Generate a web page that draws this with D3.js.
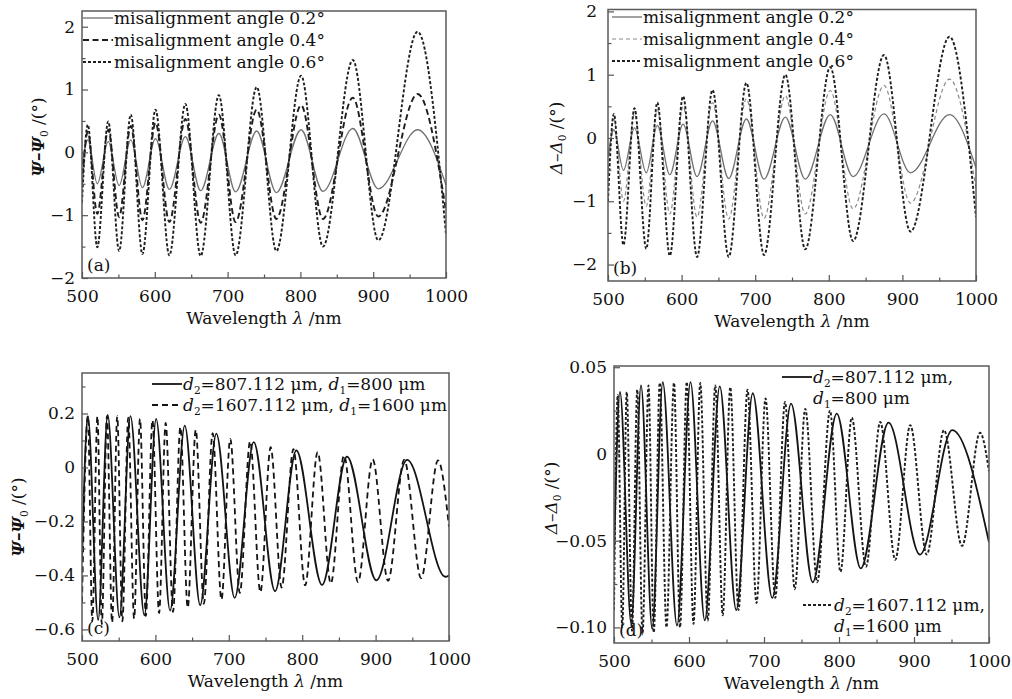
<!DOCTYPE html>
<html>
<head>
<meta charset="utf-8">
<script src="https://cdn.jsdelivr.net/npm/d3@7"></script>
<style>
body { margin: 0; background: #fff; }
svg text { font-family: "DejaVu Serif", serif; fill: #111; }
</style>
</head>
<body>
<div id="chartContainer"></div>
<script>
const SVG_WIDTH = 1012;
const SVG_HEIGHT = 699;
const FONT_SIZE = 17;

// Panel (a): Psi - Psi0, extrema
const A_WL = [500, 508, 521, 536, 551, 567, 583, 601, 620, 642, 663, 688, 711, 740, 767, 801, 831, 872, 907, 961, 1000];
const A_ANGLE_02 = [-0.2, 0.2, -0.5, 0.17, -0.53, 0.2, -0.56, 0.22, -0.59, 0.25, -0.61, 0.3, -0.63, 0.34, -0.64, 0.36, -0.62, 0.38, -0.58, 0.36, -0.52];
const A_ANGLE_04 = [-0.5, 0.33, -0.98, 0.36, -1.03, 0.42, -1.08, 0.47, -1.11, 0.53, -1.12, 0.6, -1.11, 0.68, -1.06, 0.75, -1.06, 0.87, -1.02, 0.93, -0.93];
const A_ANGLE_06 = [-0.8, 0.44, -1.51, 0.49, -1.57, 0.6, -1.62, 0.68, -1.64, 0.77, -1.65, 0.91, -1.64, 1.04, -1.57, 1.22, -1.5, 1.47, -1.4, 1.92, -1.3];

// Panel (b): Delta - Delta0
const B_WL = [500, 508, 521, 536, 552, 567, 584, 602, 621, 642, 664, 688, 712, 741, 768, 802, 833, 875, 911, 964, 1000];
const B_ANGLE_02 = [-0.3, 0.13, -0.51, 0.16, -0.55, 0.2, -0.58, 0.22, -0.61, 0.27, -0.64, 0.3, -0.65, 0.33, -0.65, 0.37, -0.61, 0.38, -0.55, 0.37, -0.47];
const B_ANGLE_04 = [-0.6, 0.3, -1.0, 0.38, -1.08, 0.45, -1.2, 0.5, -1.25, 0.56, -1.28, 0.62, -1.27, 0.67, -1.2, 0.75, -1.12, 0.83, -1.03, 0.93, -0.8];
const B_ANGLE_06 = [-1.0, 0.38, -1.69, 0.47, -1.75, 0.56, -1.86, 0.66, -1.88, 0.76, -1.88, 0.87, -1.85, 1.0, -1.76, 1.12, -1.63, 1.31, -1.48, 1.6, -1.25];

// Panel (c): Psi - Psi0 for two thicknesses
const C_THIN_WL = [500, 508, 522, 535, 551, 566, 585, 601, 620, 640, 661, 683, 708, 734, 763, 792, 827, 861, 901, 943, 995, 1000];
const C_THIN = [-0.35, 0.19, -0.565, 0.195, -0.555, 0.19, -0.548, 0.18, -0.53, 0.155, -0.51, 0.125, -0.483, 0.094, -0.458, 0.063, -0.435, 0.04, -0.418, 0.028, -0.405, -0.4];
const C_THICK_WL = [500, 508, 514, 521, 527, 534, 541, 548, 555, 563, 571, 579, 587, 596, 605, 614, 624, 634, 644, 655, 666, 678, 690, 702, 715, 729, 743, 757, 772, 788, 804, 821, 839, 857, 876, 896, 917, 939, 962, 985, 1000];
const C_THICK = [-0.5, 0.19, -0.57, 0.19, -0.58, 0.19, -0.575, 0.19, -0.57, 0.185, -0.56, 0.18, -0.55, 0.175, -0.54, 0.165, -0.535, 0.15, -0.52, 0.14, -0.505, 0.127, -0.49, 0.106, -0.465, 0.097, -0.462, 0.075, -0.445, 0.068, -0.437, 0.057, -0.43, 0.045, -0.425, 0.03, -0.42, 0.028, -0.41, 0.026, -0.22];

// Panel (d): Delta - Delta0 for two thicknesses
const D_THIN_WL = [500, 508, 523, 536, 551, 565, 584, 602, 621, 641, 663, 685, 711, 736, 765, 797, 829, 866, 908, 951, 1000];
const D_THIN = [-0.06, 0.0357, -0.098, 0.0395, -0.101, 0.0414, -0.099, 0.0414, -0.096, 0.039, -0.09, 0.035, -0.083, 0.029, -0.074, 0.0233, -0.066, 0.018, -0.058, 0.0137, -0.051];
const D_THICK_WL = [500, 505, 511, 517, 524, 531, 538, 546, 553, 561, 570, 580, 588, 597, 606, 615, 625, 635, 645, 655, 666, 678, 690, 702, 715, 728, 741, 755, 771, 788, 802, 817, 836, 855, 875, 895, 917, 940, 964, 988, 1000];
const D_THICK = [-0.09, 0.034, -0.1, 0.0357, -0.102, 0.037, -0.104, 0.0395, -0.103, 0.041, -0.1, 0.041, -0.1, 0.0415, -0.098, 0.041, -0.096, 0.0395, -0.093, 0.0385, -0.09, 0.037, -0.086, 0.032, -0.083, 0.03, -0.078, 0.026, -0.074, 0.025, -0.068, 0.021, -0.065, 0.0185, -0.061, 0.0166, -0.058, 0.0137, -0.053, 0.0122, -0.01];

// Axis ticks and labels
const X_TICKS = [500, 600, 700, 800, 900, 1000];
const X_MINOR = [550, 650, 750, 850, 950];
const A_Y_TICKS = [-2, -1, 0, 1, 2];
const A_Y_TICK_LABELS = ["\u22122", "\u22121", "0", "1", "2"];
const A_Y_MINOR = [-1.5, -0.5, 0.5, 1.5];
const B_Y_TICKS = [-2, -1, 0, 1, 2];
const B_Y_TICK_LABELS = ["\u22122", "\u22121", "0", "1", "2"];
const B_Y_MINOR = [-1.5, -0.5, 0.5, 1.5];
const C_Y_TICKS = [-0.6, -0.4, -0.2, 0, 0.2];
const C_Y_TICK_LABELS = ["\u22120.6", "\u22120.4", "\u22120.2", "0", "0.2"];
const C_Y_MINOR = [-0.5, -0.3, -0.1, 0.1, 0.3];
const D_Y_TICKS = [-0.1, -0.05, 0, 0.05];
const D_Y_TICK_LABELS = ["\u22120.10", "\u22120.05", "0", "0.05"];
const D_Y_MINOR = [-0.075, -0.025, 0.025];

// Texts, as [string, kind] parts
const X_TITLE = [["Wavelength ", "n"], ["\u03bb", "i"], [" /nm", "n"]];
const PSI_TITLE = [["\u03a8\u2013\u03a8", "bi"], ["0", "sub"], [" /(\u00b0)", "n"]];
const DELTA_TITLE = [["\u0394\u2013\u0394", "i"], ["0", "sub"], [" /(\u00b0)", "n"]];
const ANGLE_LABELS = ["misalignment angle 0.2\u00b0", "misalignment angle 0.4\u00b0", "misalignment angle 0.6\u00b0"];
const THIN_LABEL = [["d", "i"], ["2", "sub"], ["=807.112 \u03bcm, ", "n"], ["d", "i"], ["1", "sub"], ["=800 \u03bcm", "n"]];
const THICK_LABEL = [["d", "i"], ["2", "sub"], ["=1607.112 \u03bcm, ", "n"], ["d", "i"], ["1", "sub"], ["=1600 \u03bcm", "n"]];
const THIN_LABEL_1 = [["d", "i"], ["2", "sub"], ["=807.112 \u03bcm,", "n"]];
const THIN_LABEL_2 = [["d", "i"], ["1", "sub"], ["=800 \u03bcm", "n"]];
const THICK_LABEL_1 = [["d", "i"], ["2", "sub"], ["=1607.112 \u03bcm,", "n"]];
const THICK_LABEL_2 = [["d", "i"], ["1", "sub"], ["=1600 \u03bcm", "n"]];

const LINE_STYLES = {
    grey: { stroke: "#707070", width: 1.3, dash: null },
    longDash: { stroke: "#1e1e1e", width: 1.9, dash: "6,3.5" },
    greyDash: { stroke: "#8a8a8a", width: 1.2, dash: "4,3" },
    dot: { stroke: "#1e1e1e", width: 1.9, dash: "3,2" },
    black: { stroke: "#141414", width: 1.8, dash: null },
    blackDash: { stroke: "#141414", width: 1.8, dash: "6,4" }
};

const zipSeries = (wl, vals) => wl.map((w, i) => [w, vals[i]]);

const panels = [
    {
        name: "(a)", box: { left: 82, right: 446, top: 11, bottom: 278 }, yDomain: [-2, 2.25],
        yTicks: A_Y_TICKS, yTickLabels: A_Y_TICK_LABELS, yMinor: A_Y_MINOR, yTitle: PSI_TITLE, yTitlePos: [38, 137],
        series: [
            { points: zipSeries(A_WL, A_ANGLE_02), style: "grey" },
            { points: zipSeries(A_WL, A_ANGLE_04), style: "longDash" },
            { points: zipSeries(A_WL, A_ANGLE_06), style: "dot" }
        ],
        legend: [
            { x1: 83, x2: 113, y: 18, style: "grey", parts: [[ANGLE_LABELS[0], "n"]] },
            { x1: 83, x2: 113, y: 40, style: "longDash", parts: [[ANGLE_LABELS[1], "n"]] },
            { x1: 83, x2: 113, y: 62, style: "dot", parts: [[ANGLE_LABELS[2], "n"]] }
        ]
    },
    {
        name: "(b)", box: { left: 608, right: 976, top: 9.5, bottom: 281 }, yDomain: [-2.26, 2.03],
        yTicks: B_Y_TICKS, yTickLabels: B_Y_TICK_LABELS, yMinor: B_Y_MINOR, yTitle: DELTA_TITLE, yTitlePos: [556, 138],
        series: [
            { points: zipSeries(B_WL, B_ANGLE_02), style: "grey" },
            { points: zipSeries(B_WL, B_ANGLE_04), style: "greyDash" },
            { points: zipSeries(B_WL, B_ANGLE_06), style: "dot" }
        ],
        legend: [
            { x1: 612, x2: 642, y: 17, style: "grey", parts: [[ANGLE_LABELS[0], "n"]] },
            { x1: 612, x2: 642, y: 39, style: "greyDash", parts: [[ANGLE_LABELS[1], "n"]] },
            { x1: 612, x2: 642, y: 61, style: "dot", parts: [[ANGLE_LABELS[2], "n"]] }
        ]
    },
    {
        name: "(c)", box: { left: 82, right: 449, top: 373, bottom: 641 }, yDomain: [-0.643, 0.35],
        yTicks: C_Y_TICKS, yTickLabels: C_Y_TICK_LABELS, yMinor: C_Y_MINOR, yTitle: PSI_TITLE, yTitlePos: [18, 517],
        series: [
            { points: zipSeries(C_THIN_WL, C_THIN), style: "black" },
            { points: zipSeries(C_THICK_WL, C_THICK), style: "blackDash" }
        ],
        legend: [
            { x1: 152, x2: 182, y: 384, style: "black", parts: THIN_LABEL },
            { x1: 152, x2: 182, y: 405, style: "blackDash", parts: THICK_LABEL }
        ]
    },
    {
        name: "(d)", box: { left: 614, right: 989, top: 366, bottom: 643 }, yDomain: [-0.109, 0.0507],
        yTicks: D_Y_TICKS, yTickLabels: D_Y_TICK_LABELS, yMinor: D_Y_MINOR, yTitle: DELTA_TITLE, yTitlePos: [551, 498],
        series: [
            { points: zipSeries(D_THIN_WL, D_THIN), style: "black" },
            { points: zipSeries(D_THICK_WL, D_THICK), style: "dot" }
        ],
        legend: [
            { x1: 782, x2: 812, y: 377, style: "black", parts: THIN_LABEL_1 },
            { x1: null, x2: 812, y: 398, style: "black", parts: THIN_LABEL_2 },
            { x1: 803, x2: 833, y: 605, style: "dot", parts: THICK_LABEL_1 },
            { x1: null, x2: 833, y: 626, style: "dot", parts: THICK_LABEL_2 }
        ]
    }
];

let svg = d3.select("#chartContainer").append("svg")
    .attr("width", SVG_WIDTH)
    .attr("height", SVG_HEIGHT)
    .attr("viewBox", "0 0 " + SVG_WIDTH + " " + SVG_HEIGHT);

// HELPER FUNCTIONS
const applyStyle = (sel, styleName) => {
    let s = LINE_STYLES[styleName];
    sel.attr("fill", "none")
        .attr("stroke", s.stroke)
        .attr("stroke-width", s.width)
        .attr("stroke-dasharray", s.dash);
}

const appendRichText = (textSel, parts, size) => {
    let shift = 0;
    parts.forEach(([str, kind]) => {
        let target = kind === "sub" ? size * 0.26 : 0;
        let t = textSel.append("tspan").text(str).attr("dy", target - shift);
        shift = target;
        if (kind === "i") t.attr("font-style", "italic");
        if (kind === "bi") t.attr("font-style", "italic").attr("font-weight", "bold");
        if (kind === "sub") t.attr("font-size", size * 0.62);
    });
}

const drawPanel = (panel, index) => {
    let box = panel.box;
    let x = d3.scaleLinear().domain([500, 1000]).range([box.left, box.right]);
    let y = d3.scaleLinear().domain(panel.yDomain).range([box.bottom, box.top]);
    let g = svg.append("g").attr("class", "panel");

    let clipId = "clip" + index;
    svg.append("clipPath").attr("id", clipId)
        .append("rect")
        .attr("x", box.left).attr("y", box.top)
        .attr("width", box.right - box.left).attr("height", box.bottom - box.top);

    // curves
    let line = d3.line()
        .x(d => x(d[0]))
        .y(d => y(d[1]))
        .curve(d3.curveMonotoneX);
    let curves = g.append("g").attr("clip-path", "url(#" + clipId + ")");
    panel.series.forEach((s) => {
        curves.append("path")
            .datum(s.points)
            .attr("d", line)
            .call(applyStyle, s.style);
    });

    // axes with inward ticks
    let xAxis = d3.axisBottom(x).tickValues(X_TICKS).tickSizeInner(-6).tickSizeOuter(0).tickPadding(12)
        .tickFormat(d3.format("d"));
    let xMinor = d3.axisBottom(x).tickValues(X_MINOR).tickSizeInner(-3.5).tickSizeOuter(0).tickFormat("");
    let yAxis = d3.axisLeft(y).tickValues(panel.yTicks).tickSizeInner(-6).tickSizeOuter(0).tickPadding(index === 1 ? 11 : 7)
        .tickFormat((d, i) => panel.yTickLabels[i]);
    let yMinor = d3.axisLeft(y).tickValues(panel.yMinor).tickSizeInner(-3.5).tickSizeOuter(0).tickFormat("");

    [[xAxis, "translate(0," + box.bottom + ")"], [xMinor, "translate(0," + box.bottom + ")"],
     [yAxis, "translate(" + box.left + ",0)"], [yMinor, "translate(" + box.left + ",0)"]].forEach(([axis, tr]) => {
        let a = g.append("g").attr("transform", tr).call(axis);
        a.select(".domain").remove();
        a.selectAll(".tick line").attr("stroke", "#555").attr("stroke-width", 1.2);
        a.selectAll(".tick text").attr("font-size", FONT_SIZE).attr("font-family", "DejaVu Serif").attr("fill", "#111");
    });

    // frame
    g.append("rect")
        .attr("x", box.left).attr("y", box.top)
        .attr("width", box.right - box.left).attr("height", box.bottom - box.top)
        .attr("fill", "none").attr("stroke", "#5a5a5a").attr("stroke-width", 1.5);

    // axis titles
    let xt = g.append("text")
        .attr("x", (box.left + box.right) / 2)
        .attr("y", box.bottom + 46)
        .attr("text-anchor", "middle")
        .attr("font-size", FONT_SIZE);
    appendRichText(xt, X_TITLE, FONT_SIZE);

    let yt = g.append("text")
        .attr("transform", "translate(" + (panel.yTitlePos[0] + 6) + "," + panel.yTitlePos[1] + ") rotate(-90)")
        .attr("text-anchor", "middle")
        .attr("font-size", FONT_SIZE);
    appendRichText(yt, panel.yTitle, FONT_SIZE);

    // panel tag
    g.append("text")
        .attr("x", box.left + 5)
        .attr("y", box.bottom - 7)
        .attr("font-size", FONT_SIZE)
        .text(panel.name);

    // legend
    panel.legend.forEach((row) => {
        if (row.x1 !== null) {
            g.append("line")
                .attr("x1", row.x1).attr("x2", row.x2)
                .attr("y1", row.y).attr("y2", row.y)
                .call(applyStyle, row.style);
        }
        let t = g.append("text")
            .attr("x", row.x2 + 1)
            .attr("y", row.y + 6)
            .attr("font-size", FONT_SIZE);
        appendRichText(t, row.parts, FONT_SIZE);
    });
}

panels.forEach((panel, i) => drawPanel(panel, i));
</script>
</body>
</html>
